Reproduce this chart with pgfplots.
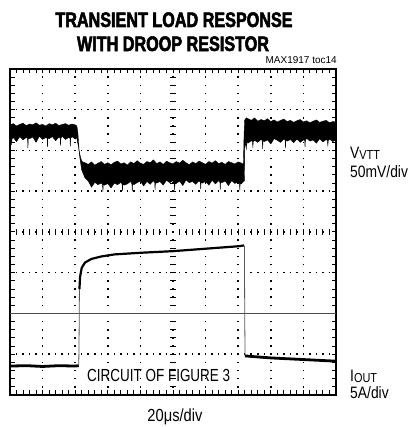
\documentclass[border=0pt]{standalone}
\usepackage{pgfplots}
\pgfplotsset{compat=1.18}
\usepackage{fontspec}
\setmainfont{Liberation Sans}
\newfontfamily\cond[FakeStretch=0.84]{Liberation Sans}
\newfontfamily\condc[FakeStretch=0.77]{Liberation Sans}
\newfontfamily\titlef[FakeStretch=0.77,FakeBold=2.5]{Liberation Sans Bold}
\begin{document}
\begin{tikzpicture}[x=1bp,y=1bp]
\path[use as bounding box] (0,0) rectangle (409,427);
% centre graticule with its small ticks
\begin{axis}[
  at={(10bp,32bp)}, anchor=south west,
  scale only axis, width=326bp, height=326bp,
  xmin=-5, xmax=5, ymin=-4, ymax=4,
  axis lines=middle, axis line style={draw=none},
  xtick={-5,...,5}, ytick={-4,...,4},
  xticklabels={}, yticklabels={},
  minor x tick num=4, minor y tick num=4,
  tick align=center,
  major tick length=6bp, minor tick length=6bp,
  every tick/.style={black, line width=1bp},
]
\addplot[draw=none] coordinates {(0,0)};
\end{axis}
\begin{axis}[
  at={(10bp,32bp)}, anchor=south west,
  scale only axis, width=326bp, height=326bp,
  xmin=0, xmax=10, ymin=0, ymax=8,
  xtick={0,...,10}, ytick={0,...,8},
  xticklabels={}, yticklabels={},
  minor x tick num=4, minor y tick num=4,
  tick align=inside, xtick pos=both, ytick pos=both,
  major tick length=4.5bp, minor tick length=4.5bp,
  every tick/.style={black, line width=1bp},
  axis line style={line width=2.5bp},
  grid=major,
  major x grid style={black, line width=1.5bp, dash pattern=on 1.5bp off 6.65bp, dash phase=0.75bp},
  major y grid style={black, line width=1.5bp, dash pattern=on 1.5bp off 5.02bp, dash phase=0.75bp},
  clip=true,
]
% ground reference of current trace
\addplot[gray!60!black, line width=1.2bp] coordinates {(0,2) (10,2)};
% V_VTT trace (noise band: upper envelope then lower envelope)
\addplot[fill=black, draw=black, line width=0.4bp] coordinates {
(0.0,6.62) (0.1,6.66) (0.2,6.60) (0.3,6.64) (0.4,6.67) (0.5,6.61) (0.6,6.65) (0.7,6.63) (0.8,6.68) (0.9,6.62)
(1.0,6.64) (1.1,6.60) (1.2,6.66) (1.3,6.63) (1.4,6.67) (1.5,6.61) (1.6,6.64) (1.7,6.66) (1.8,6.62) (1.9,6.65)
(2.0,6.63) (2.05,6.60) (2.08,6.45) (2.12,6.00) (2.17,5.80) (2.22,5.72)
(2.3,5.70) (2.4,5.66) (2.5,5.72) (2.6,5.64) (2.7,5.69) (2.8,5.73) (2.9,5.66) (3.0,5.70) (3.1,5.65) (3.2,5.71)
(3.3,5.74) (3.4,5.67) (3.5,5.70) (3.6,5.64) (3.7,5.72) (3.8,5.68) (3.9,5.75) (4.0,5.69) (4.1,5.66) (4.2,5.73)
(4.3,5.70) (4.4,5.77) (4.5,5.68) (4.6,5.72) (4.7,5.66) (4.8,5.74) (4.9,5.70) (5.0,5.67) (5.1,5.73) (5.2,5.69)
(5.3,5.76) (5.4,5.70) (5.5,5.65) (5.6,5.72) (5.7,5.68) (5.8,5.74) (5.9,5.70) (6.0,5.66) (6.1,5.73) (6.2,5.69)
(6.3,5.75) (6.4,5.68) (6.5,5.71) (6.6,5.66) (6.7,5.73) (6.8,5.70) (6.9,5.67) (7.0,5.72) (7.1,5.69) (7.16,5.66)
(7.18,6.40) (7.2,6.75) (7.25,6.80)
(7.3,6.78) (7.4,6.74) (7.5,6.80) (7.6,6.72) (7.7,6.76) (7.8,6.73) (7.9,6.78) (8.0,6.71) (8.1,6.75) (8.2,6.70)
(8.3,6.74) (8.4,6.77) (8.5,6.71) (8.6,6.74) (8.7,6.69) (8.8,6.73) (8.9,6.76) (9.0,6.70) (9.1,6.73) (9.2,6.68)
(9.3,6.72) (9.4,6.75) (9.5,6.69) (9.6,6.72) (9.7,6.74) (9.8,6.68) (9.9,6.71) (10.0,6.70)
(10.0,6.26) (9.9,6.22) (9.8,6.28) (9.76,6.24) (9.75,6.10) (9.74,6.24) (9.7,6.27) (9.6,6.21) (9.5,6.29) (9.4,6.18)
(9.3,6.26) (9.2,6.23) (9.1,6.30) (9.06,6.25) (9.05,6.08) (9.04,6.25) (9.0,6.26) (8.9,6.20) (8.8,6.28) (8.7,6.19)
(8.6,6.27) (8.5,6.23) (8.46,6.26) (8.45,6.06) (8.44,6.26) (8.4,6.28) (8.3,6.20) (8.2,6.25) (8.1,6.29) (8.0,6.16)
(7.9,6.26) (7.8,6.22) (7.76,6.24) (7.75,6.04) (7.74,6.24) (7.7,6.27) (7.6,6.20) (7.5,6.25) (7.46,6.22) (7.45,6.07)
(7.44,6.22) (7.4,6.24) (7.3,6.18) (7.26,6.20) (7.25,6.02) (7.24,6.20) (7.22,6.15) (7.2,6.05) (7.19,5.25)
(7.16,5.24) (7.1,5.18) (7.06,5.20) (7.05,5.02) (7.04,5.20) (7.0,5.24) (6.9,5.19) (6.8,5.26) (6.7,5.14) (6.6,5.25)
(6.5,5.21) (6.46,5.22) (6.45,5.04) (6.44,5.22) (6.4,5.26) (6.3,5.18) (6.2,5.27) (6.1,5.15) (6.0,5.24) (5.9,5.20)
(5.86,5.21) (5.85,5.05) (5.84,5.21) (5.8,5.26) (5.7,5.17) (5.6,5.24) (5.5,5.21) (5.4,5.28) (5.3,5.14) (5.2,5.25)
(5.1,5.19) (5.06,5.20) (5.05,5.02) (5.04,5.20) (5.0,5.26) (4.9,5.21) (4.8,5.27) (4.7,5.15) (4.6,5.24) (4.5,5.20)
(4.46,5.21) (4.45,5.04) (4.44,5.21) (4.4,5.26) (4.3,5.17) (4.2,5.24) (4.1,5.13) (4.0,5.25) (3.9,5.21) (3.8,5.16)
(3.76,5.18) (3.75,5.00) (3.74,5.18) (3.7,5.24) (3.6,5.18) (3.5,5.15) (3.46,5.17) (3.45,5.01) (3.44,5.17) (3.4,5.22)
(3.3,5.16) (3.2,5.20) (3.1,5.08) (3.0,5.19) (2.9,5.15) (2.86,5.16) (2.85,4.99) (2.84,5.16) (2.8,5.20) (2.7,5.16)
(2.6,5.22) (2.5,5.10) (2.4,5.25) (2.3,5.33) (2.2,5.52) (2.15,5.78) (2.1,6.10) (2.06,6.25)
(2.05,6.32) (2.0,6.28) (1.9,6.34) (1.86,6.30) (1.85,6.10) (1.84,6.30) (1.8,6.32) (1.7,6.27) (1.6,6.35) (1.56,6.30)
(1.55,6.12) (1.54,6.30) (1.5,6.33) (1.4,6.24) (1.3,6.34) (1.2,6.29) (1.16,6.30) (1.15,6.08) (1.14,6.30) (1.1,6.32)
(1.0,6.27) (0.9,6.35) (0.8,6.20) (0.7,6.33) (0.6,6.29) (0.56,6.30) (0.55,6.06) (0.54,6.30) (0.5,6.32) (0.4,6.26)
(0.3,6.34) (0.2,6.22) (0.1,6.32) (0.06,6.28) (0.05,6.14) (0.04,6.28) (0.0,6.30)
} -- cycle;
% I_OUT trace
\addplot[black, line width=2.8bp] coordinates {
(0,0.71) (0.5,0.72) (1.0,0.70) (1.5,0.72) (2.0,0.71) (2.11,0.72)};
\addplot[gray!70!black, line width=0.8bp] coordinates {(2.11,0.72) (2.12,1.5) (2.13,2.6)};
\addplot[black, line width=2.2bp] coordinates {
(2.13,2.6) (2.15,2.9) (2.2,3.12) (2.3,3.25) (2.5,3.34) (2.8,3.40) (3.2,3.45) (4.0,3.49) (5.0,3.53) (6.0,3.59) (7.0,3.65) (7.18,3.67)};
\addplot[gray!70!black, line width=0.8bp] coordinates {(7.19,3.66) (7.20,2.0) (7.21,0.96)};
\addplot[black, line width=2.8bp] coordinates {
(7.21,0.96) (7.5,0.94) (8.0,0.91) (8.5,0.89) (9.0,0.87) (9.5,0.85) (10,0.83)};
\end{axis}
% texts
\node[anchor=base, inner sep=0, font=\titlef\fontsize{21bp}{24bp}\selectfont] at (174,400) {TRANSIENT LOAD RESPONSE};
\node[anchor=base, inner sep=0, font=\titlef\fontsize{21bp}{24bp}\selectfont] at (173,376) {WITH DROOP RESISTOR};
\node[anchor=base east, inner sep=0, font=\fontsize{10bp}{12bp}\selectfont] at (337,364) {MAX1917 toc14};
\node[anchor=base west, inner sep=0, font=\cond\fontsize{16.5bp}{18bp}\selectfont] at (350,269) {V\raisebox{-1.5bp}{\fontsize{13bp}{14bp}\selectfont VTT}};
\node[anchor=base west, inner sep=0, font=\cond\fontsize{16.5bp}{18bp}\selectfont] at (350,250) {50mV/div};
\node[anchor=base west, inner sep=0, font=\cond\fontsize{16.5bp}{18bp}\selectfont] at (350,46) {I\raisebox{-1.5bp}{\fontsize{13bp}{14bp}\selectfont OUT}};
\node[anchor=base west, inner sep=0, font=\cond\fontsize{16.5bp}{18bp}\selectfont] at (350,29) {5A/div};
\node[anchor=base, inner sep=0, font=\cond\fontsize{17.5bp}{20bp}\selectfont] at (175,6) {20μs/div};
\node[anchor=base west, inner sep=0, font=\condc\fontsize{17.5bp}{20bp}\selectfont] at (87,46) {CIRCUIT OF FIGURE 3};
\end{tikzpicture}
\end{document}
